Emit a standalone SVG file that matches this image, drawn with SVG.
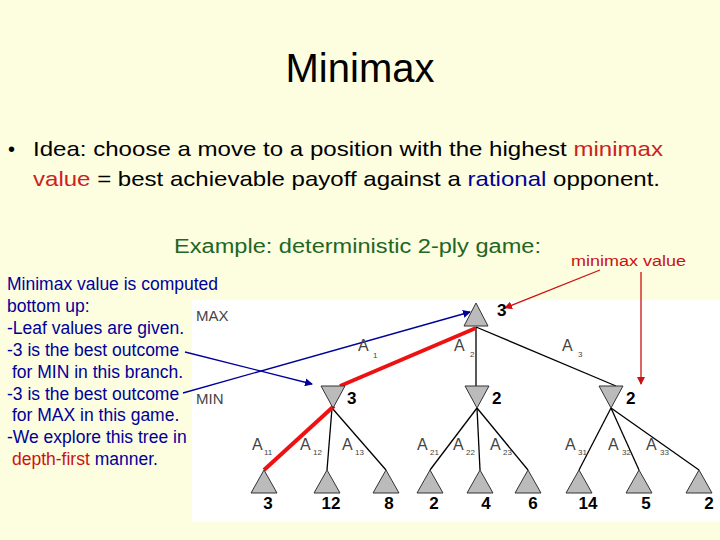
<svg xmlns="http://www.w3.org/2000/svg" width="720" height="540" viewBox="0 0 720 540">
<style>
text{font-family:"Liberation Sans",Arial,sans-serif}
.t{fill:#000}
.l{fill:#000099;font-size:17.5px}
.e{stroke:#000;stroke-width:1.3;fill:none}
.n{fill:#bbbbbb;stroke:#333;stroke-width:1}
.v{font-size:17px;font-weight:bold;fill:#000}
.a{font-size:16px;fill:#444}
.s{font-size:8px;fill:#444}
</style>
<defs>
<marker id="mb" markerWidth="8" markerHeight="8" refX="7" refY="4" orient="auto" markerUnits="userSpaceOnUse"><path d="M0,0L8,4L0,8z" fill="#000099"/></marker>
<marker id="mr" markerWidth="8" markerHeight="8" refX="7" refY="4" orient="auto" markerUnits="userSpaceOnUse"><path d="M0,0L8,4L0,8z" fill="#cc1111"/></marker>
</defs>
<rect width="720" height="540" fill="#fdfde0"/>
<rect x="192" y="300" width="528" height="222" fill="#fff"/>
<text x="360" y="82" text-anchor="middle" font-size="40" class="t">Minimax</text>
<text x="8" y="156" font-size="20">•</text>
<text x="33" y="156" font-size="21" textLength="630" lengthAdjust="spacingAndGlyphs">Idea: choose a move to a position with the highest <tspan fill="#cc2222">minimax</tspan></text>
<text x="33" y="186" font-size="21" textLength="627" lengthAdjust="spacingAndGlyphs"><tspan fill="#cc2222">value</tspan> = best achievable payoff against a <tspan fill="#000099">rational</tspan> opponent.</text>
<text x="174" y="253" font-size="20" fill="#226622" textLength="367" lengthAdjust="spacingAndGlyphs">Example: deterministic 2-ply game:</text>
<text x="571" y="266" font-size="14" fill="#cc1111" textLength="115" lengthAdjust="spacingAndGlyphs">minimax value</text>
<g id="explain">
<text class="l" x="7" y="290">Minimax value is computed</text>
<text class="l" x="7" y="312">bottom up:</text>
<text class="l" x="7" y="334">-Leaf values are given.</text>
<text class="l" x="7" y="356">-3 is the best outcome</text>
<text class="l" x="12" y="378">for MIN in this branch.</text>
<text class="l" x="7" y="400">-3 is the best outcome</text>
<text class="l" x="12" y="421">for MAX in this game.</text>
<text class="l" x="7" y="443">-We explore this tree in</text>
<text class="l" x="12" y="465"><tspan fill="#cc1111">depth-first</tspan> manner.</text>
</g>
<text x="196" y="321" font-size="15" fill="#444">MAX</text>
<text x="196" y="404" font-size="15" fill="#444">MIN</text>
<g id="edges">
<line class="e" x1="476" y1="327" x2="616" y2="386"/>
<line class="e" x1="476" y1="327" x2="476" y2="386" stroke="#777" stroke-width="2"/>
<line class="e" x1="332" y1="408" x2="327" y2="470"/>
<line class="e" x1="332" y1="408" x2="386" y2="470"/>
<line class="e" x1="477" y1="408" x2="430" y2="470"/>
<line class="e" x1="477" y1="408" x2="480" y2="470"/>
<line class="e" x1="477" y1="408" x2="528" y2="470"/>
<line class="e" x1="611" y1="408" x2="579" y2="470"/>
<line class="e" x1="611" y1="408" x2="639" y2="470"/>
<line class="e" x1="611" y1="408" x2="699" y2="470"/>
<line x1="476" y1="328" x2="340" y2="386" stroke="#ee1111" stroke-width="4"/>
<line x1="334" y1="406" x2="264" y2="470" stroke="#ee1111" stroke-width="4"/>
<line x1="185" y1="352" x2="312" y2="384" stroke="#000099" stroke-width="1.3" marker-end="url(#mb)"/>
<line x1="183" y1="393" x2="470" y2="312" stroke="#000099" stroke-width="1.3" marker-end="url(#mb)"/>
<line x1="600" y1="270" x2="505" y2="308" stroke="#cc1111" stroke-width="1.3" marker-end="url(#mr)"/>
<line x1="641" y1="272" x2="641" y2="384" stroke="#cc1111" stroke-width="1.3" marker-end="url(#mr)"/>
</g>
<g id="root"><path class="n" d="M476,303L464,326H488Z"/><text class="v" x="497" y="316">3</text></g>
<g id="min1"><path class="n" d="M321,386H345L333,408Z"/><text class="v" x="347" y="404">3</text></g>
<g id="min2"><path class="n" d="M465,386H489L477,408Z"/><text class="v" x="492" y="404">2</text></g>
<g id="min3"><path class="n" d="M599,386H623L611,408Z"/><text class="v" x="626" y="404">2</text></g>
<g id="labels">
<text class="a" x="358" y="351">A</text><text class="s" x="373" y="358">1</text>
<text class="a" x="454" y="351">A</text><text class="s" x="470" y="357">2</text>
<text class="a" x="562" y="351">A</text><text class="s" x="578" y="357">3</text>
<text class="a" x="252" y="450" font-size="12">A</text><text class="s" x="264" y="455">11</text>
<text class="a" x="300" y="450" font-size="12">A</text><text class="s" x="313" y="455">12</text>
<text class="a" x="342" y="450" font-size="12">A</text><text class="s" x="355" y="455">13</text>
<text class="a" x="417" y="450" font-size="12">A</text><text class="s" x="430" y="455">21</text>
<text class="a" x="453" y="450" font-size="12">A</text><text class="s" x="466" y="455">22</text>
<text class="a" x="490" y="450" font-size="12">A</text><text class="s" x="503" y="455">23</text>
<text class="a" x="565" y="450" font-size="12">A</text><text class="s" x="578" y="455">31</text>
<text class="a" x="608" y="450" font-size="12">A</text><text class="s" x="622" y="455">32</text>
<text class="a" x="646" y="450" font-size="12">A</text><text class="s" x="660" y="455">33</text>
</g>
<g id="leaves">
<path class="n" d="M264,470L251,493H277Z"/><text class="v" x="268" y="509" text-anchor="middle">3</text>
<path class="n" d="M327,470L314,493H340Z"/><text class="v" x="331" y="509" text-anchor="middle">12</text>
<path class="n" d="M386,470L373,493H399Z"/><text class="v" x="389" y="509" text-anchor="middle">8</text>
<path class="n" d="M430,470L417,493H443Z"/><text class="v" x="434" y="509" text-anchor="middle">2</text>
<path class="n" d="M480,470L467,493H493Z"/><text class="v" x="486" y="509" text-anchor="middle">4</text>
<path class="n" d="M528,470L515,493H541Z"/><text class="v" x="533" y="509" text-anchor="middle">6</text>
<path class="n" d="M579,470L566,493H592Z"/><text class="v" x="588" y="509" text-anchor="middle">14</text>
<path class="n" d="M639,470L626,493H652Z"/><text class="v" x="646" y="509" text-anchor="middle">5</text>
<path class="n" d="M699,470L686,493H712Z"/><text class="v" x="709" y="509" text-anchor="middle">2</text>
</g>
</svg>
